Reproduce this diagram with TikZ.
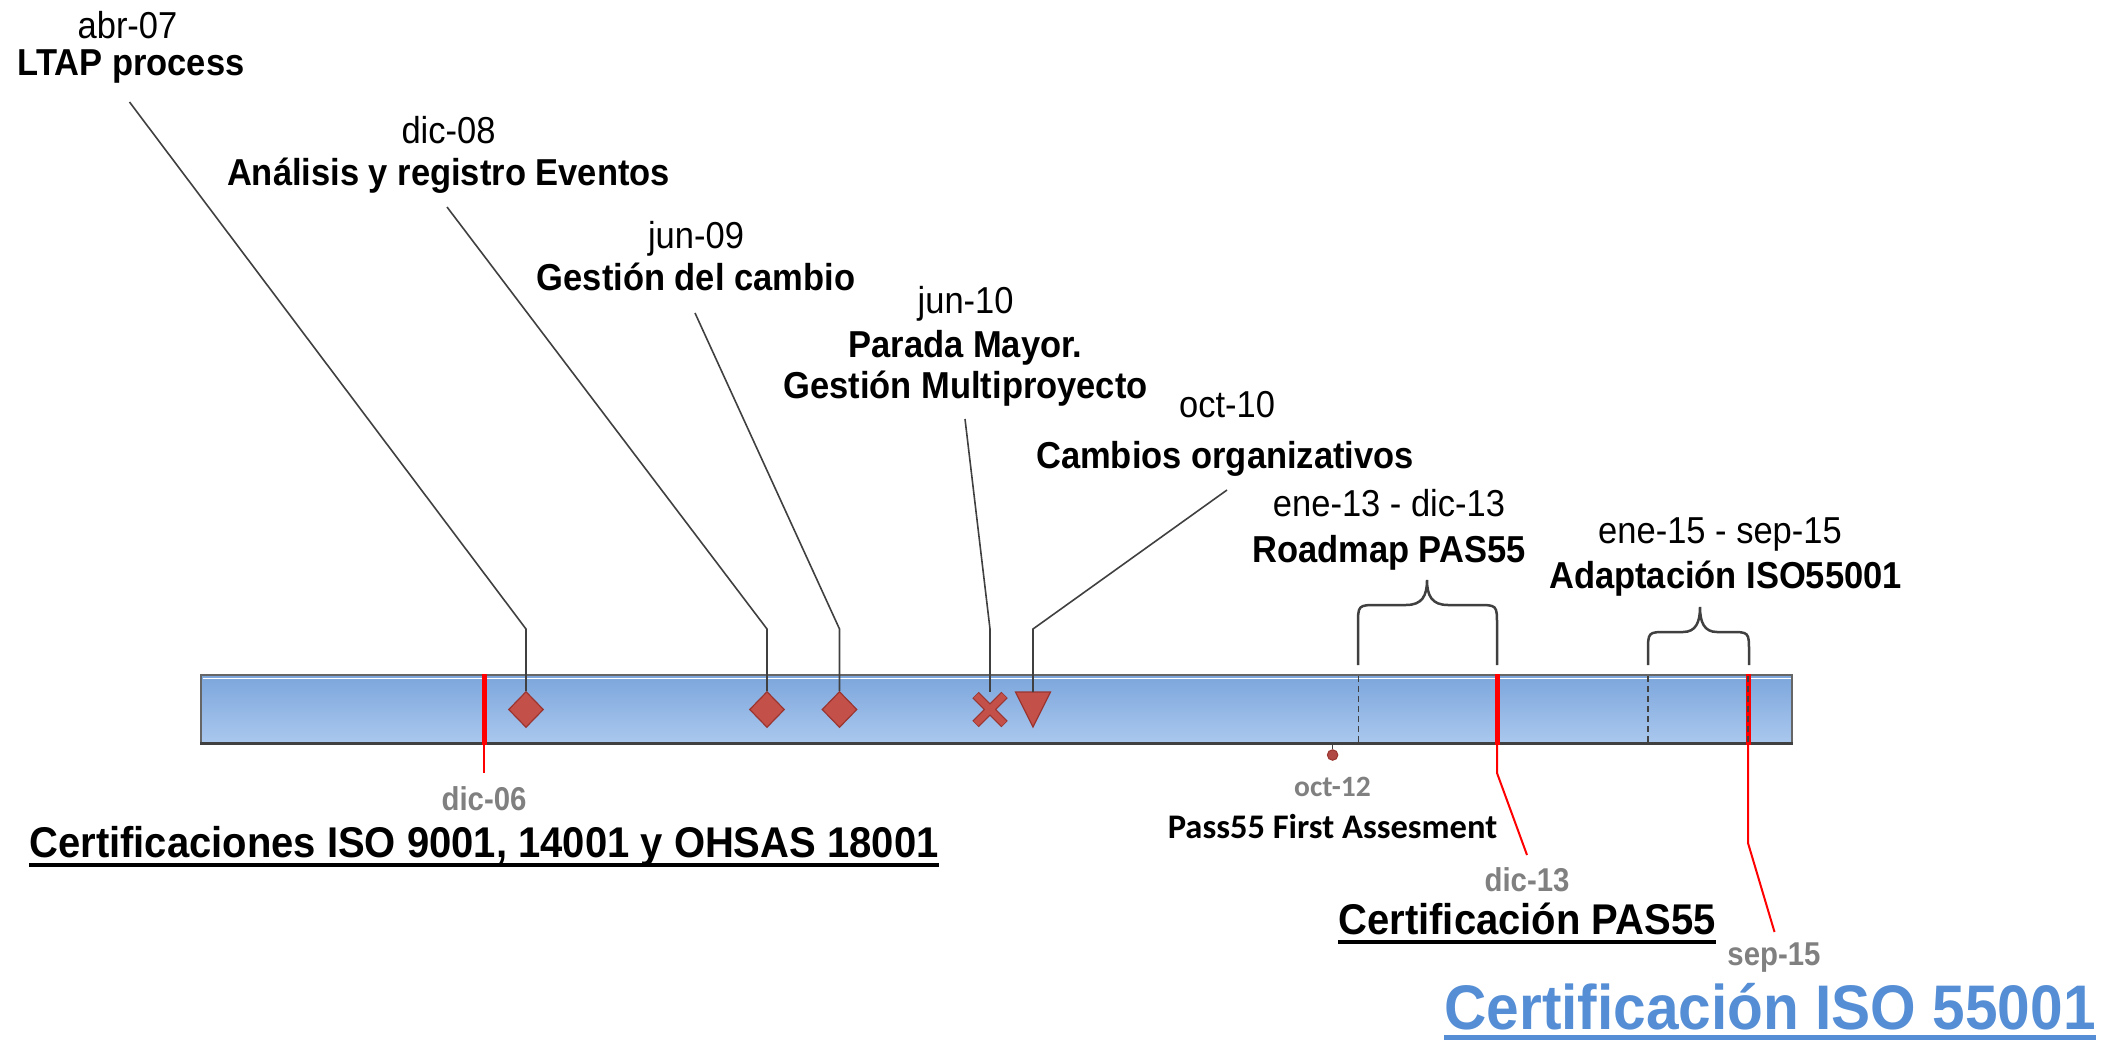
\documentclass[tikz,border=0pt]{standalone}
\usepackage{fontspec}
\setmainfont{Liberation Sans}
\newfontfamily\lblfont[FakeStretch=0.92]{Liberation Sans}
\newfontfamily\tagfont[FakeStretch=0.89]{Liberation Sans}
\newfontfamily\headfont[FakeStretch=0.93]{Liberation Sans}
\newfontfamily\calfont{Carlito}
\usetikzlibrary{shapes.geometric}

\definecolor{barTop}{HTML}{7CA6DC}
\definecolor{barBot}{HTML}{AAC8EE}
\definecolor{lead}{HTML}{404040}
\definecolor{mk}{HTML}{C4504A}
\definecolor{mkedge}{HTML}{9A3530}
\definecolor{softgray}{HTML}{808080}
\definecolor{isoblue}{HTML}{558ED5}

\begin{document}
\begin{tikzpicture}[x=1pt,y=-1pt,
  datelbl/.style={anchor=base,inner sep=0,font=\lblfont\fontsize{37.5}{39}\selectfont},
  titlelbl/.style={anchor=base,inner sep=0,font=\lblfont\fontsize{37.5}{39}\selectfont\bfseries},
  graylbl/.style={anchor=base,inner sep=0,text=softgray,font=\tagfont\fontsize{33}{35}\selectfont\bfseries},
  bigtitle/.style={anchor=base,inner sep=0,font=\headfont\fontsize{43}{45}\selectfont\bfseries},
  leader/.style={draw=lead,line width=1.6},
  marker/.style={diamond,aspect=1,minimum width=35,minimum height=36,inner sep=0,fill=mk,draw=mkedge,line width=1.2},
  redmark/.style={draw=red,line width=5},
  redlead/.style={draw=red,line width=2},
  splitline/.style={draw=lead,line width=1.5,dash pattern=on 6pt off 4pt},
  bracket/.style={draw=lead,line width=2.5}
]
\useasboundingbox (0,0) rectangle (2106,1041);

% ---- timeline bar ----
\node[draw=lead!80,line width=1.5,top color=barTop,bottom color=barBot,
      minimum width=1591,minimum height=68,inner sep=0] (bar) at (996.5,709) {};
\draw[white,line width=1.5] (202.5,678.5) -- (1790.5,678.5);
\draw[lead,line width=3] (bar.south west) -- (bar.south east);

% ---- period separators inside the bar ----
\draw[splitline] (1358.7,676) -- (1358.7,742);
\draw[splitline] (1648,676) -- (1648,742);

% ---- certification marks ----
\coordinate (c1) at (484,674);
\coordinate (c2) at (1497,674);
\coordinate (c3) at (1748,674);
\draw[redmark] (c1) -- (484,745);
\draw[redmark] (c2) -- (1497,745);
\draw[redmark] (c3) -- (1748,745);
\draw[splitline] (1748,676) -- (1748,742);

\coordinate (k1) at (484,773);
\coordinate (k2) at (1497,773);
\coordinate (k2b) at (1527,855);
\coordinate (k3) at (1748,843);
\coordinate (k3b) at (1774.5,932);
\draw[redlead] (484,745) -- (k1);
\draw[redlead] (1497,745) -- (k2) -- (k2b);
\draw[redlead] (1748,745) -- (k3) -- (k3b);

% ---- braces over the periods ----
\draw[bracket] (1358,665) -- (1358,625) .. controls (1358,605) .. (1378,605)
  -- (1406,605) .. controls (1422,605) and (1427,596) .. (1427,580)
  .. controls (1427,596) and (1432,605) .. (1448,605)
  -- (1477,605) .. controls (1497,605) .. (1497,625) -- (1497,665);
\draw[bracket] (1648,665) -- (1648,652) .. controls (1648,632) .. (1667,632)
  -- (1683,632) .. controls (1696,632) and (1700,622) .. (1700,607)
  .. controls (1700,622) and (1704,632) .. (1717,632)
  -- (1730,632) .. controls (1749,632) .. (1749,652) -- (1749,665);

% ---- event markers ----
\node[marker] (m1) at (526,709.5) {};
\node[marker] (m2) at (767,709.5) {};
\node[marker] (m3) at (839.5,709.5) {};
\node[minimum size=35,inner sep=0] (m4) at (990,709.5) {};
\draw[mkedge,line width=9] (975.5,695) -- (1004.5,724) (1004.5,695) -- (975.5,724);
\draw[mk,line width=6.5] (976,695.5) -- (1004,723.5) (1004,695.5) -- (976,723.5);
\coordinate (m5) at (1033,692);
\filldraw[fill=mk,draw=mkedge,line width=1.2] (1015.5,692) -- (1050.5,692) -- (1033,727) -- cycle;

% ---- assessment pin ----
\node[circle,fill=mk!90!black,draw=mkedge,line width=1,minimum size=10.5,inner sep=0] (pin) at (1332.6,755) {};
\draw[lead,line width=1.5] (1332.6,744) -- (pin.north);

% ---- event labels ----
\node[datelbl] (t1a) at (127.5,38) {abr-07};
\node[titlelbl] (t1) at (131,75) {LTAP process};
\node[datelbl] (t2a) at (448.5,143) {dic-08};
\node[titlelbl] (t2) at (448.5,185) {Análisis y registro Eventos};
\node[datelbl] (t3a) at (696,248) {jun-09};
\node[titlelbl] (t3) at (696,290) {Gestión del cambio};
\node[datelbl] (t4a) at (965.6,313) {jun-10};
\node[titlelbl] (t4) at (965.6,357) {Parada Mayor.};
\node[titlelbl] (t4b) at (965.6,398) {Gestión Multiproyecto};
\node[datelbl] (t5a) at (1227,417) {oct-10};
\node[titlelbl] (t5) at (1225,468) {Cambios organizativos};
\node[datelbl] (t6a) at (1389,516) {ene-13 - dic-13};
\node[titlelbl] (t6) at (1389,562) {Roadmap PAS55};
\node[datelbl] (t7a) at (1720,543) {ene-15 - sep-15};
\node[titlelbl] (t7) at (1725.5,588) {Adaptación ISO55001};

% ---- leader lines from labels to markers ----
\coordinate (s1) at (129.5,102);  \coordinate (e1) at (526,629);
\coordinate (s2) at (447,207);    \coordinate (e2) at (767,629);
\coordinate (s3) at (695,313);    \coordinate (e3) at (839.5,629);
\coordinate (s4) at (965,419);    \coordinate (e4) at (990,629);
\coordinate (s5) at (1227,490);   \coordinate (e5) at (1033,629);
\draw[leader] (s1) -- (e1) -- (m1.north);
\draw[leader] (s2) -- (e2) -- (m2.north);
\draw[leader] (s3) -- (e3) -- (m3.north);
\draw[leader] (s4) -- (e4) -- (m4.north);
\draw[leader] (s5) -- (e5) -- (m5);

% ---- labels below the bar ----
\node[graylbl] (d06) at (484,810) {dic-06};
\node[bigtitle] (cert1) at (484,857) {Certificaciones ISO 9001, 14001 y OHSAS 18001};
\draw[line width=4] ([yshift=-8pt]cert1.base west) -- ([yshift=-8pt]cert1.base east);

\node[anchor=base,inner sep=0,text=softgray,font=\calfont\fontsize{29.5}{31}\selectfont\bfseries] (o12) at (1332.5,796) {oct-12};
\node[anchor=base,inner sep=0,font=\calfont\fontsize{34.5}{36}\selectfont\bfseries] (pfa) at (1332.5,838) {Pass55 First Assesment};

\node[graylbl] (d13) at (1527,891) {dic-13};
\node[bigtitle] (cert2) at (1527,934) {Certificación PAS55};
\draw[line width=4] ([yshift=-8pt]cert2.base west) -- ([yshift=-8pt]cert2.base east);

\node[graylbl] (s15) at (1774,965) {sep-15};
\node[anchor=base,inner sep=0,text=isoblue,font=\headfont\fontsize{63}{65}\selectfont\bfseries] (cert3) at (1770,1029) {Certificación ISO 55001};
\draw[isoblue,line width=5] ([yshift=-8pt]cert3.base west) -- ([yshift=-8pt]cert3.base east);
\end{tikzpicture}
\end{document}
